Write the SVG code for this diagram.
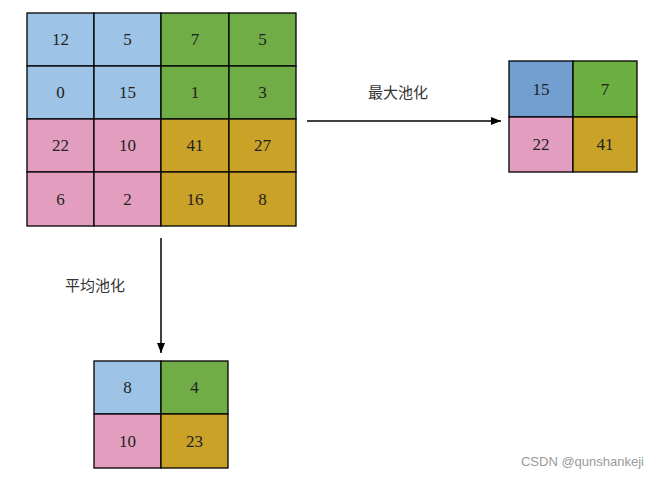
<svg xmlns="http://www.w3.org/2000/svg" width="658" height="480" viewBox="0 0 658 480">
<style>
.c{stroke:#000;stroke-width:1.3}
.b{fill:#9dc3e6}.g{fill:#70ad47}.p{fill:#e39ebf}.y{fill:#c9a227}.bd{fill:#729fcf}.gd{fill:#6aaf3f}
.t{font-family:"Liberation Serif",serif;font-size:17px;text-anchor:middle;dominant-baseline:central;fill:#222}
.l{font-family:"Noto Sans CJK SC",sans-serif;font-size:15px;fill:#333}
</style>
<defs><marker id="ah" markerWidth="10" markerHeight="8" refX="10" refY="4" orient="auto" markerUnits="userSpaceOnUse"><path d="M0,0L10,4L0,8z" fill="#000"/></marker></defs>
<rect width="658" height="480" fill="#fff"/>
<g id="input">
<rect class="c b" x="27" y="13" width="67" height="53"/><text class="t" x="60.5" y="39.5">12</text>
<rect class="c b" x="94" y="13" width="67" height="53"/><text class="t" x="127.5" y="39.5">5</text>
<rect class="c g" x="161" y="13" width="68" height="53"/><text class="t" x="195" y="39.5">7</text>
<rect class="c g" x="229" y="13" width="67" height="53"/><text class="t" x="262.5" y="39.5">5</text>
<rect class="c b" x="27" y="66" width="67" height="53"/><text class="t" x="60.5" y="92.5">0</text>
<rect class="c b" x="94" y="66" width="67" height="53"/><text class="t" x="127.5" y="92.5">15</text>
<rect class="c g" x="161" y="66" width="68" height="53"/><text class="t" x="195" y="92.5">1</text>
<rect class="c g" x="229" y="66" width="67" height="53"/><text class="t" x="262.5" y="92.5">3</text>
<rect class="c p" x="27" y="119" width="67" height="53"/><text class="t" x="60.5" y="145.5">22</text>
<rect class="c p" x="94" y="119" width="67" height="53"/><text class="t" x="127.5" y="145.5">10</text>
<rect class="c y" x="161" y="119" width="68" height="53"/><text class="t" x="195" y="145.5">41</text>
<rect class="c y" x="229" y="119" width="67" height="53"/><text class="t" x="262.5" y="145.5">27</text>
<rect class="c p" x="27" y="172" width="67" height="54"/><text class="t" x="60.5" y="199">6</text>
<rect class="c p" x="94" y="172" width="67" height="54"/><text class="t" x="127.5" y="199">2</text>
<rect class="c y" x="161" y="172" width="68" height="54"/><text class="t" x="195" y="199">16</text>
<rect class="c y" x="229" y="172" width="67" height="54"/><text class="t" x="262.5" y="199">8</text>
</g>
<g id="maxpool">
<rect class="c bd" x="509" y="61" width="64" height="56"/><text class="t" x="541" y="89">15</text>
<rect class="c gd" x="573" y="61" width="64" height="56"/><text class="t" x="605" y="89">7</text>
<rect class="c p" x="509" y="117" width="64" height="55"/><text class="t" x="541" y="144.5">22</text>
<rect class="c y" x="573" y="117" width="64" height="55"/><text class="t" x="605" y="144.5">41</text>
</g>
<g id="avgpool">
<rect class="c b" x="94" y="361" width="67" height="53"/><text class="t" x="127.5" y="387.5">8</text>
<rect class="c g" x="161" y="361" width="67" height="53"/><text class="t" x="194.5" y="387.5">4</text>
<rect class="c p" x="94" y="414" width="67" height="54"/><text class="t" x="127.5" y="441">10</text>
<rect class="c y" x="161" y="414" width="67" height="54"/><text class="t" x="194.5" y="441">23</text>
</g>
<g id="connectors" stroke="#000" stroke-width="1.5">
<line x1="307" y1="121" x2="501" y2="121" marker-end="url(#ah)"/>
<line x1="161" y1="238" x2="161" y2="353" marker-end="url(#ah)"/>
</g>
<g id="labels">
<text class="l" x="368" y="98">最大池化</text>
<text class="l" x="65" y="291">平均池化</text>
<text x="644" y="466" text-anchor="end" font-family="'Liberation Sans',sans-serif" font-size="13" fill="#999">CSDN @qunshankeji</text>
</g>
</svg>
